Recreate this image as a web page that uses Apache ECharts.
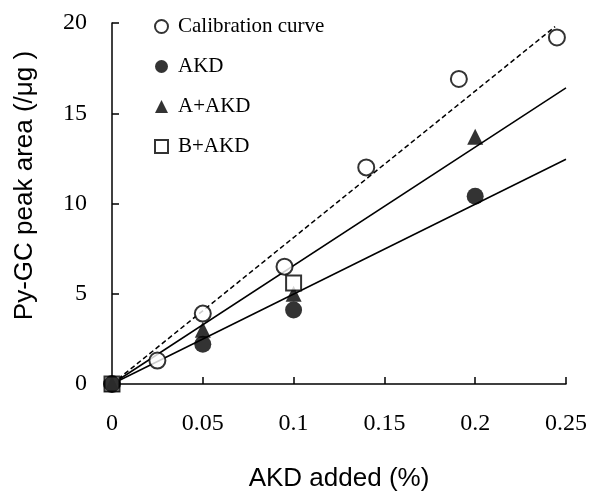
<!DOCTYPE html>
<html>
<head>
<meta charset="utf-8">
<script src="https://cdn.jsdelivr.net/npm/echarts@6/dist/echarts.min.js"></script>
<style>
  html, body { margin: 0; padding: 0; background: #fff; }
  #chart { width: 590px; height: 492px; }
</style>
</head>
<body>
<div id="chart"></div>
<script>
// 数据 (读自图片)
const calX = [0, 0.025, 0.05, 0.095, 0.14, 0.191, 0.245]
const calY = [0, 1.3, 3.9, 6.5, 12.0, 16.9, 19.2]
const akdX = [0, 0.05, 0.1, 0.2]
const akdY = [0, 2.2, 4.1, 10.4]
const aX = [0, 0.05, 0.1, 0.2]
const aY = [0, 3.0, 5.0, 13.7]
const bX = [0, 0.1]
const bY = [0, 5.6]
// 回归线端点
const calFitX = [0, 0.244]
const calFitY = [0, 19.8]
const aFitX = [0, 0.25]
const aFitY = [0, 16.4]
const akdFitX = [0, 0.25]
const akdFitY = [0, 12.45]

const xTicks = [0, 0.05, 0.1, 0.15, 0.2, 0.25]
const yTicks = [0, 5, 10, 15, 20]

const pairs = (xs, ys) => xs.map((x, i) => [x, ys[i]])

const serif = '"Liberation Serif", "Times New Roman", serif'
const sans = '"Liberation Sans", Arial, sans-serif'

const chart = echarts.init(document.getElementById('chart'))

const fitLine = (name, xs, ys, type) => ({
  name: name,
  type: 'line',
  data: pairs(xs, ys),
  symbol: 'none',
  silent: true,
  z: 1,
  lineStyle: { color: '#000', width: 1.5, type: type }
})

const option = {
  animation: false,
  grid: { left: 112, right: 24, top: 23, bottom: 108, outerBoundsMode: 'none' },
  legend: {
    orient: 'vertical',
    left: 149,
    top: 11,
    itemWidth: 13,
    itemHeight: 13,
    itemGap: 19,
    data: ['Calibration curve', 'AKD', 'A+AKD', 'B+AKD'],
    textStyle: { fontFamily: serif, fontSize: 21, color: '#000', padding: [0, 0, 0, 5] }
  },
  xAxis: {
    type: 'value',
    min: 0,
    max: 0.25,
    interval: 0.05,
    name: 'AKD added (%)',
    nameLocation: 'middle',
    nameGap: 82,
    nameTextStyle: { fontFamily: sans, fontSize: 26, color: '#000' },
    axisLine: { lineStyle: { color: '#000', width: 1.5 } },
    axisTick: { inside: true, length: 7, lineStyle: { color: '#000', width: 1.5 } },
    axisLabel: {
      margin: 28,
      fontFamily: serif,
      fontSize: 24,
      color: '#000',
      formatter: v => xTicks.includes(+v.toFixed(2)) ? String(+v.toFixed(2)) : ''
    },
    splitLine: { show: false }
  },
  yAxis: {
    type: 'value',
    min: 0,
    max: 20,
    interval: 5,
    name: 'Py-GC peak area (/μg )',
    nameLocation: 'middle',
    nameGap: 74,
    nameTextStyle: { fontFamily: sans, fontSize: 26, color: '#000', padding: [0, 0, 0, 36] },
    axisLine: { show: true, lineStyle: { color: '#000', width: 1.5 } },
    axisTick: { show: true, inside: true, length: 7, lineStyle: { color: '#000', width: 1.5 } },
    axisLabel: {
      margin: 25,
      fontFamily: serif,
      fontSize: 24,
      color: '#000',
      formatter: v => yTicks.includes(v) ? String(v) : ''
    },
    splitLine: { show: false }
  },
  series: [
    fitLine('calFit', calFitX, calFitY, [5, 3]),
    fitLine('aFit', aFitX, aFitY, 'solid'),
    fitLine('akdFit', akdFitX, akdFitY, 'solid'),
    {
      name: 'Calibration curve',
      type: 'scatter',
      data: pairs(calX, calY),
      symbol: 'circle',
      symbolSize: 16,
      z: 2,
      itemStyle: { color: '#fff', borderColor: '#000', borderWidth: 2 }
    },
    {
      name: 'A+AKD',
      type: 'scatter',
      data: pairs(aX, aY),
      symbol: 'triangle',
      symbolSize: 16,
      z: 3,
      itemStyle: { color: '#000' }
    },
    {
      name: 'B+AKD',
      type: 'scatter',
      data: pairs(bX, bY),
      symbol: 'rect',
      symbolSize: 15,
      z: 4,
      itemStyle: { color: '#fff', borderColor: '#000', borderWidth: 2 }
    },
    {
      name: 'AKD',
      type: 'scatter',
      data: pairs(akdX, akdY),
      symbol: 'circle',
      symbolSize: 17,
      z: 5,
      itemStyle: { color: '#000' }
    }
  ]
}

chart.setOption(option)
</script>
</body>
</html>
